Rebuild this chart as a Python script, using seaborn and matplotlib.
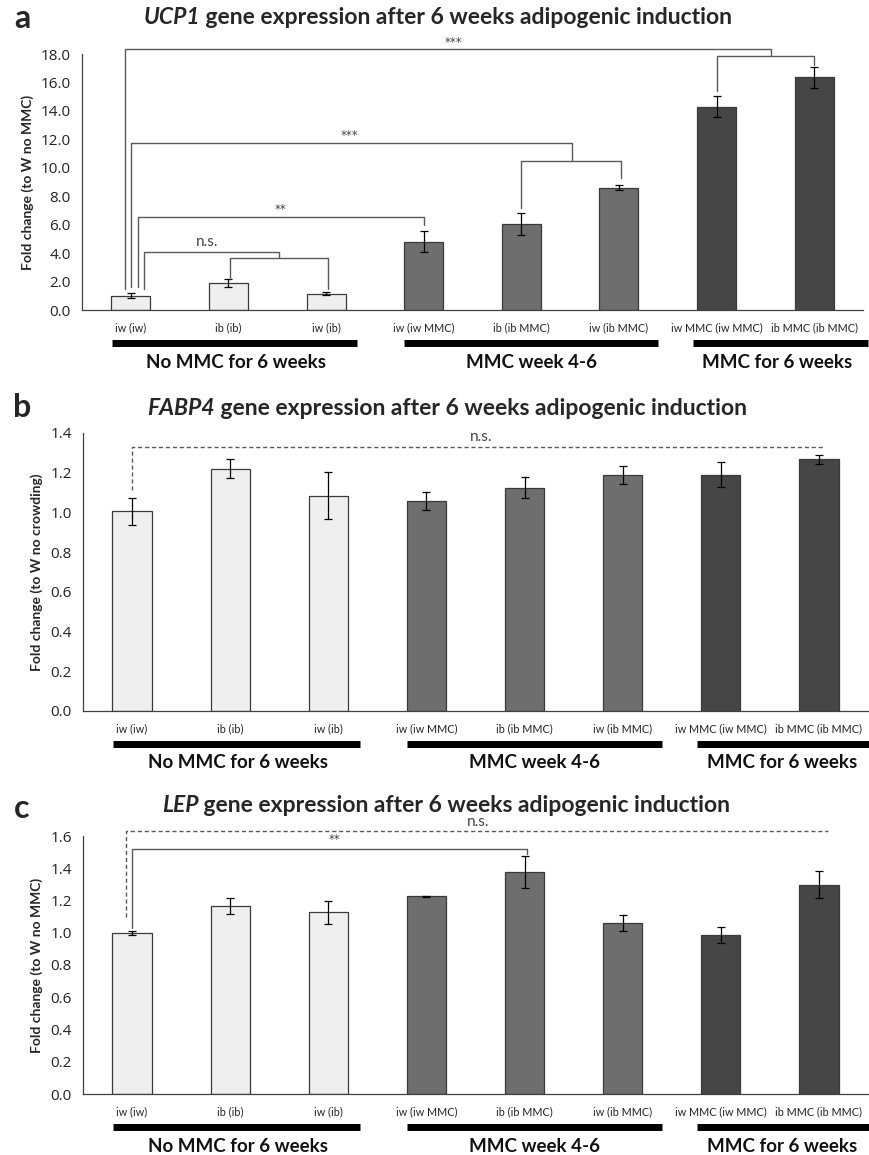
import matplotlib
matplotlib.use("Agg")
import matplotlib.pyplot as plt
import matplotlib.transforms as mtrans
import seaborn as sns
import pandas as pd

# ---------------- data ----------------
categories = ["iw (iw)", "ib (ib)", "iw (ib)", "iw (iw MMC)", "ib (ib MMC)",
              "iw (ib MMC)", "iw MMC (iw MMC)", "ib MMC (ib MMC)"]
group_names = ["No MMC for 6 weeks", "MMC week 4-6", "MMC for 6 weeks"]

ucp1_mean = [1.0, 1.88, 1.14, 4.80, 6.05, 8.60, 14.30, 16.35]
ucp1_err = [0.19, 0.28, 0.12, 0.75, 0.75, 0.18, 0.75, 0.72]

fabp4_mean = [1.005, 1.221, 1.085, 1.058, 1.124, 1.188, 1.191, 1.268]
fabp4_err = [0.066, 0.047, 0.120, 0.047, 0.053, 0.047, 0.063, 0.023]

lep_mean = [1.000, 1.166, 1.126, 1.226, 1.379, 1.058, 0.986, 1.298]
lep_err = [0.013, 0.050, 0.070, 0.004, 0.100, 0.050, 0.050, 0.085]

ucp1_ticks = [0, 2, 4, 6, 8, 10, 12, 14, 16, 18]
fabp4_ticks = [0, 0.2, 0.4, 0.6, 0.8, 1.0, 1.2, 1.4]
lep_ticks = [0, 0.2, 0.4, 0.6, 0.8, 1.0, 1.2, 1.4, 1.6]

# ---------------- style ----------------
sns.set_style("white")
plt.rcParams["font.family"] = ["Lato", "DejaVu Sans"]

W, H = 870, 1155
fig = plt.figure(figsize=(W / 100, H / 100), dpi=100)

LIGHT, MID, DARK = "#efefef", "#6e6e6e", "#464646"
colors = [LIGHT] * 3 + [MID] * 3 + [DARK] * 2
EDGE = "#3a3a3a"
BR = "#5a5a5a"


def px_axes(left, right, top, bottom):
    return fig.add_axes([left / W, 1 - bottom / H, (right - left) / W, (bottom - top) / H])


def draw_panel(ax, mean, err, ticks, ylabel):
    df = pd.DataFrame({"cat": categories, "val": mean})
    sns.barplot(data=df, x="cat", y="val", hue="cat", palette=colors, legend=False,
                width=0.4, edgecolor=EDGE, linewidth=0.9, errorbar=None, ax=ax)
    ax.errorbar(range(len(mean)), mean, yerr=err, fmt="none", ecolor="black",
                elinewidth=0.9, capsize=3.2, capthick=0.9, zorder=5)
    ax.set_xlim(-0.5, 7.5)
    ax.set_ylim(0, ticks[-1])
    ax.set_yticks(ticks)
    ax.set_yticklabels([f"{t:.1f}" for t in ticks], fontfamily="Open Sans", fontsize=11,
                       color="#222222")
    ax.set_xticks(range(8))
    ax.set_xticklabels(categories, fontsize=7.8, color="#222222")
    ax.set_xticks([i - 0.5 for i in range(9)], minor=True)
    ax.tick_params(axis="x", which="major", length=0, pad=9)
    ax.tick_params(axis="x", which="minor", length=5, width=0.9, color="#404040",
                   direction="out")
    ax.tick_params(axis="y", length=5, width=0.9, color="#404040", direction="out", pad=3)
    ax.set_xlabel("")
    ax.set_ylabel(ylabel, fontsize=10, fontweight="bold", labelpad=5)
    for s in ["top", "right"]:
        ax.spines[s].set_visible(False)
    for s in ["left", "bottom"]:
        ax.spines[s].set_color("#404040")
        ax.spines[s].set_linewidth(0.9)
    # group bars and labels
    hpx = ax.get_position().height * H
    tr = mtrans.blended_transform_factory(ax.transData, ax.transAxes)
    spans = [(-0.19, 2.32), (2.8, 5.4), (5.76, 7.55)]
    centers = [1.08, 4.1, 6.62]
    for (a, b), c, name in zip(spans, centers, group_names):
        ax.plot([a, b], [-33 / hpx, -33 / hpx], color="black", lw=5, transform=tr,
                clip_on=False, solid_capstyle="butt")
        ax.text(c, -52 / hpx, name, transform=tr, ha="center", va="center",
                fontsize=13.5, fontweight="bold", color="#111111")


def line(ax, xs, ys, dashed=False):
    ax.plot(xs, ys, color=BR, lw=1.0, clip_on=False, zorder=6,
            linestyle=(0, (3, 2)) if dashed else "-")


def mixed_title(xc, y, ital, rest, size=16.5):
    r = fig.canvas.get_renderer()
    t1 = fig.text(0, y, ital, fontsize=size, fontweight="bold", fontstyle="italic",
                  va="center", ha="left")
    t2 = fig.text(0, y, rest, fontsize=size, fontweight="bold", va="center", ha="left")
    w1 = t1.get_window_extent(r).width
    w2 = t2.get_window_extent(r).width
    x0 = xc - (w1 + w2) / 2
    t1.set_x(x0 / W)
    t2.set_x((x0 + w1) / W)


ST = dict(ha="center", va="center", color="#444444")
AST = dict(ha="center", va="center", color="#444444", fontfamily="DejaVu Sans", fontsize=8.5)

# ---------------- panel a ----------------
axa = px_axes(82, 863, 54, 310)
draw_panel(axa, ucp1_mean, ucp1_err, ucp1_ticks, "Fold change (to W no MMC)")
line(axa, [-0.06, -0.06, 6.56, 6.56], [1.5, 18.35, 18.35, 17.86])
line(axa, [6.0, 6.0, 7.0, 7.0], [15.4, 17.86, 17.86, 17.2])
axa.text(3.3, 18.8, "***", **AST)
line(axa, [0.0, 0.0, 4.52, 4.52], [1.6, 11.77, 11.77, 10.5])
line(axa, [4.0, 4.0, 5.02, 5.02], [7.17, 10.5, 10.5, 9.28])
axa.text(2.24, 12.25, "***", **AST)
line(axa, [0.07, 0.07, 3.0, 3.0], [1.6, 6.56, 6.56, 5.98])
axa.text(1.53, 7.05, "**", **AST)
line(axa, [0.135, 0.135, 1.52, 1.52], [1.5, 4.1, 4.1, 3.63])
line(axa, [1.02, 1.02, 2.02, 2.02], [2.17, 3.63, 3.63, 1.47])
axa.text(0.78, 4.75, "n.s.", fontsize=11, **ST)
mixed_title(438, 1 - 17 / H, "UCP1", " gene expression after 6 weeks adipogenic induction")
fig.text(22 / W, 1 - 19 / H, "a", fontsize=23, fontweight="bold", ha="center", va="center")

# ---------------- panel b ----------------
axb = px_axes(83, 868, 433, 711)
draw_panel(axb, fabp4_mean, fabp4_err, fabp4_ticks, "Fold change (to W no crowding)")
line(axb, [0.0, 0.0, 7.04], [1.114, 1.332, 1.332], dashed=True)
axb.text(3.56, 1.38, "n.s.", fontsize=11, **ST)
mixed_title(447, 1 - 409 / H, "FABP4", " gene expression after 6 weeks adipogenic induction")
fig.text(22 / W, 1 - 407 / H, "b", fontsize=23, fontweight="bold", ha="center", va="center")

# ---------------- panel c ----------------
axc = px_axes(83, 868, 836, 1094)
draw_panel(axc, lep_mean, lep_err, lep_ticks, "Fold change (to W no MMC)")
line(axc, [-0.06, -0.06, 7.09], [1.1, 1.632, 1.632], dashed=True)
line(axc, [0.0, 0.0, 4.02, 4.02], [1.03, 1.518, 1.518, 1.49])
axc.text(2.06, 1.58, "**", **AST)
axc.text(3.53, 1.685, "n.s.", fontsize=11, **ST)
mixed_title(446, 1 - 806 / H, "LEP", " gene expression after 6 weeks adipogenic induction")
fig.text(22 / W, 1 - 808 / H, "c", fontsize=23, fontweight="bold", ha="center", va="center")

fig.savefig("out.png", dpi=100)
